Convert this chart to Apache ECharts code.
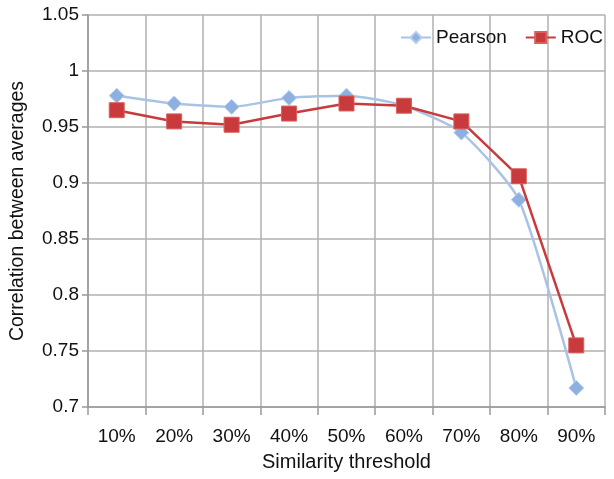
<!DOCTYPE html>
<html>
<head>
<meta charset="utf-8">
<script src="https://cdn.jsdelivr.net/npm/echarts@6/dist/echarts.min.js"></script>
<style>
  html, body { margin: 0; padding: 0; background: #fff; }
  #chart { width: 614px; height: 479px; }
</style>
</head>
<body>
<div id="chart"></div>
<script>
const categories = ['10%', '20%', '30%', '40%', '50%', '60%', '70%', '80%', '90%']
const pearson = [0.978, 0.971, 0.968, 0.976, 0.978, 0.969, 0.945, 0.885, 0.717]
const roc = [0.965, 0.955, 0.952, 0.962, 0.971, 0.969, 0.955, 0.906, 0.755]

const font = 'Liberation Sans, Arial, sans-serif'
const gridColor = '#b0b0b0'

const chart = echarts.init(document.getElementById('chart'))
chart.setOption({
  animation: false,
  textStyle: { fontFamily: font },
  grid: { left: 86, right: 9, top: 15, bottom: 72 },
  legend: {
    right: 6,
    top: 23,
    itemWidth: 30,
    itemHeight: 14,
    itemGap: 18,
    textStyle: { fontSize: 19, color: '#111', fontFamily: font },
    data: ['Pearson', 'ROC']
  },
  xAxis: {
    type: 'category',
    data: categories,
    boundaryGap: true,
    name: 'Similarity threshold',
    nameLocation: 'middle',
    nameGap: 45,
    nameTextStyle: { fontSize: 20, color: '#111' },
    axisLine: { lineStyle: { color: '#999', width: 1.5 } },
    axisTick: { show: true, length: 8, lineStyle: { color: '#999', width: 1.5 } },
    axisLabel: { fontSize: 19, color: '#111', margin: 20 },
    splitLine: { show: true, lineStyle: { color: gridColor, width: 1.5 } }
  },
  yAxis: {
    type: 'value',
    min: 0.7,
    max: 1.05,
    interval: 0.05,
    name: 'Correlation between averages',
    nameLocation: 'middle',
    nameGap: 60,
    nameTextStyle: { fontSize: 19.5, color: '#111' },
    axisLine: { show: true, lineStyle: { color: '#999', width: 1.5 } },
    axisTick: { show: true, length: 6, lineStyle: { color: '#999', width: 1.5 } },
    axisLabel: {
      fontSize: 19,
      color: '#111',
      margin: 9,
      formatter: v => String(Math.round(v * 100) / 100)
    },
    splitLine: { show: true, lineStyle: { color: gridColor, width: 1.5 } }
  },
  series: [
    {
      name: 'Pearson',
      type: 'line',
      data: pearson,
      smooth: 0.2,
      symbol: 'diamond',
      symbolSize: 15,
      lineStyle: { color: '#a9c3e6', width: 2.5 },
      itemStyle: { color: '#8db0e0', borderColor: '#b6cdef', borderWidth: 1 },
      z: 3
    },
    {
      name: 'ROC',
      type: 'line',
      data: roc,
      symbol: 'rect',
      symbolSize: 15,
      lineStyle: { color: '#c83a3b', width: 2.5 },
      itemStyle: { color: '#c83a3b', borderColor: '#d9605f', borderWidth: 1 },
      z: 4
    }
  ]
})
</script>
</body>
</html>
